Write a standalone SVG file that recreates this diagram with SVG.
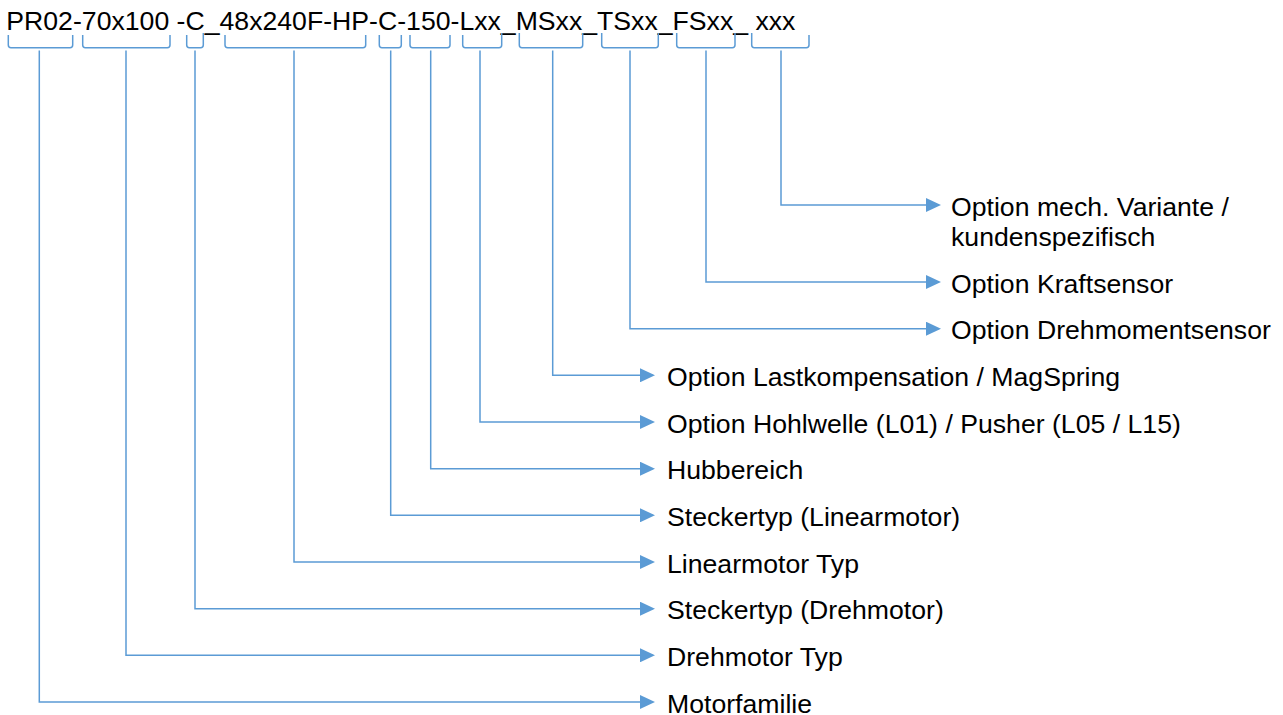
<svg xmlns="http://www.w3.org/2000/svg" width="1283" height="715" viewBox="0 0 1283 715">
<style>
.t{font-family:"Liberation Sans",Arial,sans-serif;font-size:25px;fill:#000}
.b{fill:none;stroke:#5B9BD5;stroke-width:1.5}
.c{fill:none;stroke:#5B9BD5;stroke-width:1.5;marker-end:url(#ah)}
</style>
<defs>
<marker id="ah" markerUnits="userSpaceOnUse" markerWidth="15" markerHeight="14" refX="13" refY="7" orient="auto">
<path d="M0,0 L15,7 L0,14 z" fill="#5B9BD5"/>
</marker>
</defs>
<rect width="1283" height="715" fill="#fff"/>
<g id="code">
<text class="t" transform="translate(6.3,29.6) scale(1.066,1)">PR02-70x100 -C_48x240F-HP-C-150-Lxx_MSxx_TSxx_FSxx_ xxx</text>
</g>
<g id="brackets">
<path class="b" d="M8.3,35 V45 Q8.3,47.7 11,47.7 H70 Q72.7,47.7 72.7,45 V35"/>
<path class="b" d="M82.7,35 V45 Q82.7,47.7 85.4,47.7 H167.3 Q170,47.7 170,45 V35"/>
<path class="b" d="M186.7,35 V45 Q186.7,47.7 189.4,47.7 H200.6 Q203.3,47.7 203.3,45 V33"/>
<path class="b" d="M225,35 V45 Q225,47.7 227.7,47.7 H363 Q365.7,47.7 365.7,45 V35"/>
<path class="b" d="M379.3,35 V45 Q379.3,47.7 382,47.7 H398.6 Q401.3,47.7 401.3,45 V35"/>
<path class="b" d="M410,35 V45 Q410,47.7 412.7,47.7 H447.3 Q450,47.7 450,45 V35"/>
<path class="b" d="M462.7,35 V45 Q462.7,47.7 465.4,47.7 H499 Q501.7,47.7 501.7,45 V33"/>
<path class="b" d="M519.3,33 V45 Q519.3,47.7 522,47.7 H580 Q582.7,47.7 582.7,45 V33"/>
<path class="b" d="M601.7,33 V45 Q601.7,47.7 604.4,47.7 H655.6 Q658.3,47.7 658.3,45 V33"/>
<path class="b" d="M676.7,33 V45 Q676.7,47.7 679.4,47.7 H732.3 Q735,47.7 735,45 V33"/>
<path class="b" d="M751.7,33 V45 Q751.7,47.7 754.4,47.7 H806.3 Q809,47.7 809,45 V35"/>
</g>
<g id="connectors">
<path class="c" d="M781,50.5 V205 H939"/>
<path class="c" d="M706,50.5 V282 H939"/>
<path class="c" d="M630,50.5 V328.7 H939"/>
<path class="c" d="M552.7,50.5 V375.3 H653"/>
<path class="c" d="M480,50.5 V422 H653"/>
<path class="c" d="M430.7,50.5 V468.7 H653"/>
<path class="c" d="M390.7,50.5 V515.3 H653"/>
<path class="c" d="M294,50.5 V562 H653"/>
<path class="c" d="M195,50.5 V608.7 H653"/>
<path class="c" d="M126,50.5 V655.3 H653"/>
<path class="c" d="M39.3,50.5 V702 H653"/>
</g>
<g id="n-mech"><text class="t" transform="translate(951,215.5) scale(1.066,1)">Option mech. Variante /</text><text class="t" transform="translate(951,246) scale(1.066,1)">kundenspezifisch</text></g>
<g id="n-kraft"><text class="t" transform="translate(951,292.5) scale(1.066,1)">Option Kraftsensor</text></g>
<g id="n-dreh"><text class="t" transform="translate(951,339.2) scale(1.066,1)">Option Drehmomentsensor</text></g>
<g id="n-last"><text class="t" transform="translate(667,385.8) scale(1.066,1)">Option Lastkompensation / MagSpring</text></g>
<g id="n-hohl"><text class="t" transform="translate(667,432.5) scale(1.066,1)">Option Hohlwelle (L01) / Pusher (L05 / L15)</text></g>
<g id="n-hub"><text class="t" transform="translate(667,479.2) scale(1.066,1)">Hubbereich</text></g>
<g id="n-steckl"><text class="t" transform="translate(667,525.8) scale(1.066,1)">Steckertyp (Linearmotor)</text></g>
<g id="n-lintyp"><text class="t" transform="translate(667,572.5) scale(1.066,1)">Linearmotor Typ</text></g>
<g id="n-steckd"><text class="t" transform="translate(667,619.2) scale(1.066,1)">Steckertyp (Drehmotor)</text></g>
<g id="n-drehtyp"><text class="t" transform="translate(667,665.8) scale(1.066,1)">Drehmotor Typ</text></g>
<g id="n-motorf"><text class="t" transform="translate(667,712.5) scale(1.066,1)">Motorfamilie</text></g>
</svg>
